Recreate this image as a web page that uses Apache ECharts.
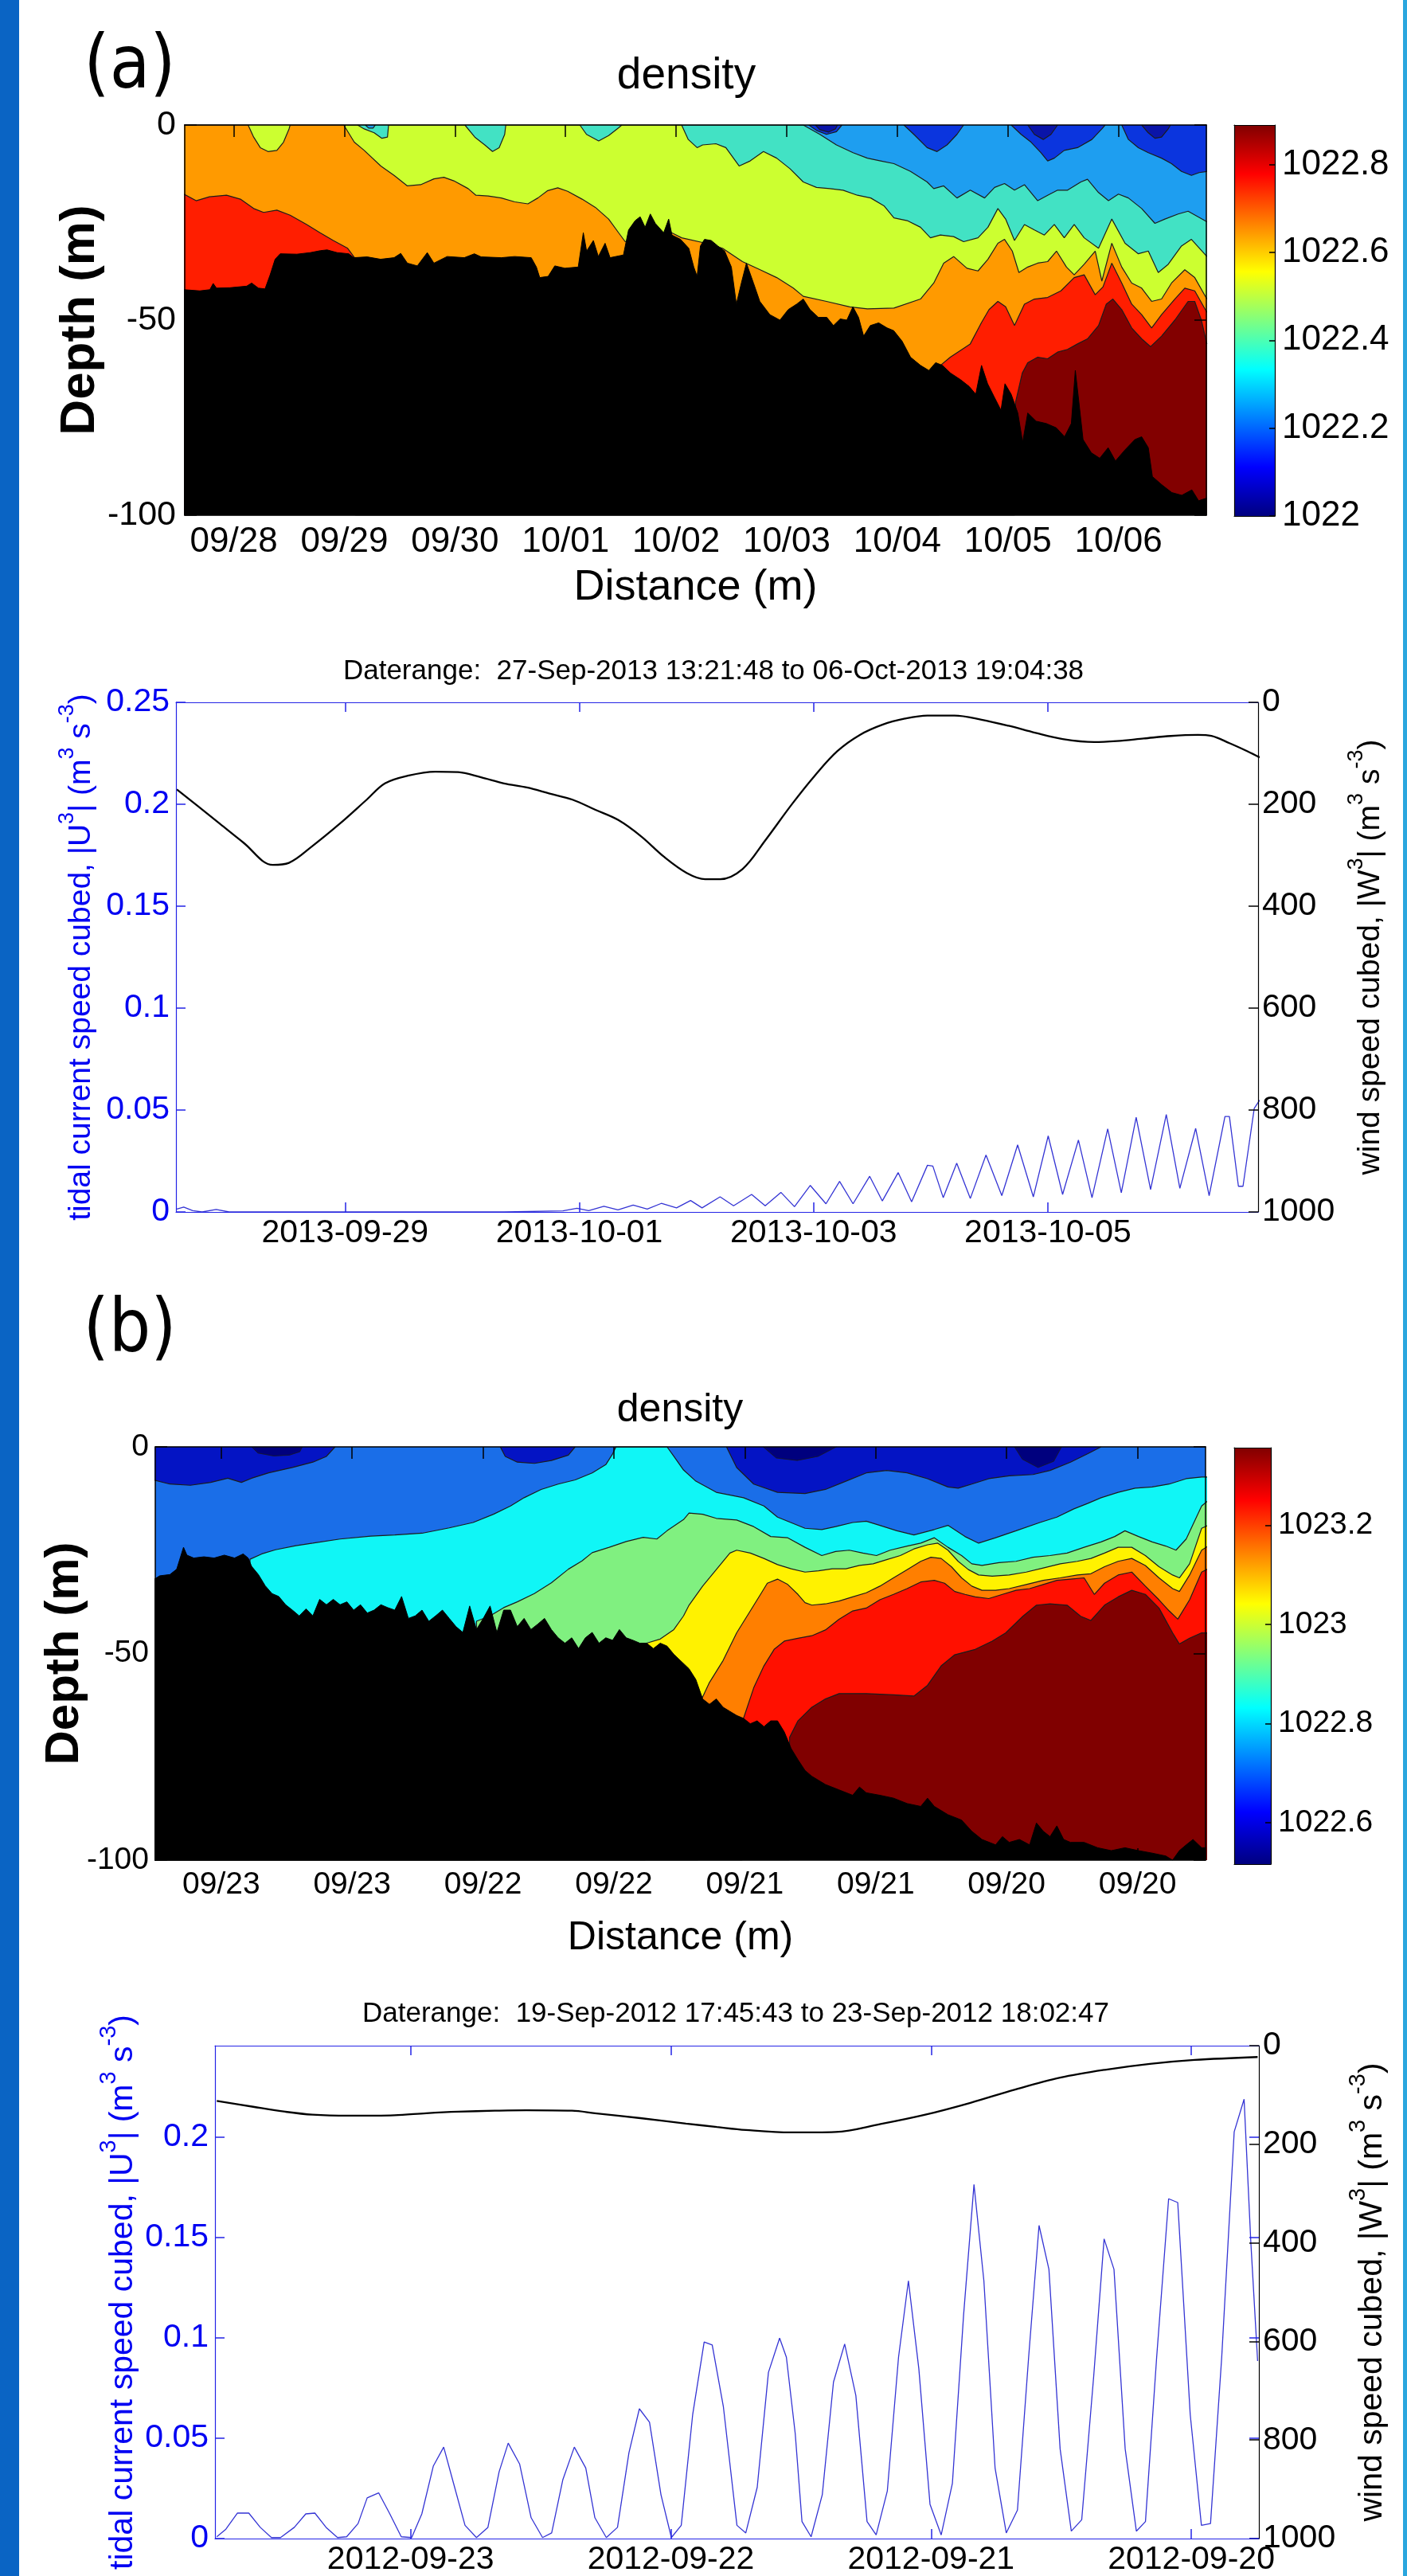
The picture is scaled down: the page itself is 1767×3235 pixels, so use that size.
<!DOCTYPE html>
<html><head><meta charset="utf-8">
<script src="https://cdn.jsdelivr.net/npm/echarts@6/dist/echarts.min.js"></script>
<style>html,body{margin:0;padding:0;background:#fff}#c{width:1767px;height:3235px}</style>
</head><body><div id="c"></div>
<script>
// ================= DATA =================
// Panel (a): x = days since 2013-09-27 00:00 ; depth in m
const aRange = [0.5568, 9.7949];
const aDensTicks = [1,2,3,4,5,6,7,8,9];
const aDensLabels = ['09/28','09/29','09/30','10/01','10/02','10/03','10/04','10/05','10/06'];
const depthTicks = [0,-50,-100];
const aCbarRange = [1022, 1022.89];
const aCbarTicks = [1022,1022.2,1022.4,1022.6,1022.8];

const aTurqTop = [[0.55,0],[6.15,0],[6.30,-2.4],[6.45,-5.1],[6.60,-7.1],[6.73,-8.5],[6.85,-9.2],[6.97,-9.9],[7.12,-11.9],[7.27,-14.6],[7.33,-16.3],[7.42,-15.6],[7.54,-18.7],[7.66,-16.7],[7.79,-18.7],[7.88,-16.0],[7.97,-15.0],[8.06,-16.7],[8.15,-15.3],[8.27,-19.4],[8.36,-18.0],[8.45,-16.7],[8.54,-16.7],[8.66,-14.6],[8.72,-13.9],[8.82,-17.3],[8.91,-19.4],[9.00,-17.7],[9.09,-18.7],[9.21,-21.4],[9.33,-25.2],[9.42,-24.1],[9.54,-22.8],[9.63,-22.1],[9.80,-24.8]];
const aLimeTop = [[0.55,0],[5.05,0],[5.11,-3.7],[5.19,-5.8],[5.24,-5.1],[5.36,-4.8],[5.45,-5.8],[5.57,-10.5],[5.67,-9.2],[5.79,-6.8],[5.91,-8.5],[6.03,-11.2],[6.15,-14.6],[6.27,-16.0],[6.39,-16.3],[6.51,-16.7],[6.64,-18.0],[6.76,-18.7],[6.88,-20.7],[6.97,-23.8],[7.09,-24.5],[7.21,-26.2],[7.30,-28.9],[7.39,-28.2],[7.51,-28.6],[7.60,-29.9],[7.73,-28.9],[7.82,-26.2],[7.91,-21.4],[7.98,-24.1],[8.06,-29.6],[8.15,-25.5],[8.24,-26.9],[8.33,-28.2],[8.42,-25.5],[8.51,-28.9],[8.60,-25.5],[8.69,-28.9],[8.82,-31.6],[8.94,-24.1],[9.06,-30.3],[9.18,-33.0],[9.27,-32.3],[9.36,-37.8],[9.45,-35.7],[9.57,-31.0],[9.66,-29.3],[9.80,-33.7]];
const aOrangeTop = [[0.55,0],[1.995,0],[2.09,-4.4],[2.18,-6.5],[2.33,-10.5],[2.45,-12.9],[2.57,-15.6],[2.69,-15.3],[2.81,-13.8],[2.90,-13.4],[2.99,-14.3],[3.12,-16.3],[3.19,-18.0],[3.30,-18.2],[3.42,-18.7],[3.54,-19.7],[3.66,-20.2],[3.75,-18.7],[3.84,-16.8],[3.93,-16.1],[4.02,-17.0],[4.15,-19.0],[4.27,-21.1],[4.39,-24.1],[4.48,-27.6],[4.54,-29.9],[4.70,-29.0],[4.96,-27.6],[5.05,-28.9],[5.27,-30.3],[5.42,-31.6],[5.60,-35.0],[5.76,-37.1],[5.91,-39.1],[6.06,-41.8],[6.15,-43.9],[6.36,-45.2],[6.57,-46.6],[6.73,-47.1],[6.97,-46.9],[7.21,-44.6],[7.33,-40.5],[7.42,-35.4],[7.51,-33.7],[7.63,-36.7],[7.73,-37.4],[7.82,-34.4],[7.91,-30.3],[7.97,-29.3],[8.04,-32.3],[8.10,-37.8],[8.18,-36.4],[8.27,-35.4],[8.36,-35.0],[8.44,-32.3],[8.53,-36.4],[8.60,-38.4],[8.69,-35.7],[8.79,-32.3],[8.85,-40.0],[8.94,-30.3],[9.03,-36.4],[9.12,-40.5],[9.21,-41.8],[9.30,-45.2],[9.39,-44.6],[9.48,-40.5],[9.60,-37.1],[9.69,-39.1],[9.80,-44.6]];
const aRedTop = [[0.55,-17.7],[0.66,-19.4],[0.78,-18.4],[0.935,-18.0],[1.06,-19.0],[1.18,-21.4],[1.27,-22.4],[1.39,-21.8],[1.51,-23.1],[1.66,-25.5],[1.78,-27.6],[1.90,-29.6],[2.03,-31.6],[2.09,-33.9],[2.10,-100],[7.38,-100],[7.39,-61.6],[7.48,-59.5],[7.57,-57.8],[7.66,-56.1],[7.76,-50.7],[7.83,-47.3],[7.91,-45.2],[7.98,-46.6],[8.06,-51.4],[8.15,-45.9],[8.24,-44.6],[8.36,-44.2],[8.48,-42.5],[8.60,-39.1],[8.69,-38.4],[8.79,-43.5],[8.86,-41.5],[8.94,-35.4],[9.03,-40.5],[9.12,-45.9],[9.21,-48.6],[9.30,-52.0],[9.39,-48.6],[9.51,-44.6],[9.60,-41.8],[9.69,-42.5],[9.80,-48.0]];
const aDarkRedTop = [[0.55,-100],[8.06,-100],[8.07,-71.0],[8.13,-63.6],[8.18,-60.9],[8.27,-59.5],[8.36,-59.9],[8.45,-58.2],[8.54,-57.5],[8.63,-56.1],[8.72,-54.8],[8.82,-51.4],[8.89,-45.9],[8.95,-44.6],[9.03,-47.3],[9.12,-52.0],[9.21,-54.8],[9.29,-56.8],[9.39,-54.1],[9.51,-50.0],[9.63,-45.2],[9.69,-45.2],[9.75,-50.0],[9.80,-56.1]];
const aLimeBlob = [[1.13,0],[1.18,-3.1],[1.24,-5.8],[1.31,-6.8],[1.39,-6.5],[1.45,-4.4],[1.50,-1.0],[1.51,0]];
const aTurqBlob1 = [[2.12,0],[2.18,-1.0],[2.27,-2.0],[2.34,-3.4],[2.39,-3.1],[2.40,0]];
const aTurqBlob2 = [[3.09,0],[3.18,-3.1],[3.27,-5.1],[3.34,-6.8],[3.40,-5.8],[3.45,-2.4],[3.46,0]];
const aTurqBlob3 = [[4.13,0],[4.19,-2.4],[4.30,-4.1],[4.39,-2.7],[4.48,-0.7],[4.51,0]];
const aSkyBlob1 = [[2.19,0],[2.22,-0.8],[2.26,-0.8],[2.28,0]];
const aBlueBlob1 = [[6.20,0],[6.27,-1.4],[6.36,-2.4],[6.45,-1.7],[6.50,0]];
const aBlueBlob2 = [[7.06,0],[7.15,-2.4],[7.27,-5.8],[7.36,-6.8],[7.45,-5.1],[7.54,-2.4],[7.60,0]];
const aBlueBlob3 = [[8.03,0],[8.12,-2.4],[8.21,-4.4],[8.30,-7.1],[8.36,-9.2],[8.42,-8.5],[8.51,-6.5],[8.63,-5.8],[8.76,-3.7],[8.85,-1.0],[8.88,0]];
const aBlueBlob4 = [[9.03,0],[9.09,-3.7],[9.18,-5.8],[9.27,-7.1],[9.39,-8.5],[9.48,-9.9],[9.57,-11.9],[9.66,-12.9],[9.73,-12.2],[9.80,-11.9]];
const aNavyBlob1 = [[6.26,0],[6.30,-1.2],[6.38,-1.8],[6.44,-1.0],[6.46,0]];
const aNavyBlob3 = [[8.18,0],[8.24,-2.4],[8.32,-3.7],[8.39,-2.4],[8.45,0]];
const aNavyBlob4 = [[9.21,0],[9.27,-2.0],[9.33,-3.4],[9.39,-3.1],[9.45,-1.0],[9.47,0]];
const aBathy = [[0.55,-42.2],[0.693,-42.5],[0.784,-42.2],[0.814,-40.6],[0.844,-41.8],[0.965,-41.7],[1.117,-41.3],[1.162,-40.5],[1.223,-41.8],[1.283,-42.0],[1.329,-38.4],[1.374,-34.4],[1.42,-33.0],[1.571,-33.1],[1.692,-32.7],[1.783,-32.2],[1.844,-32.0],[1.935,-32.7],[2.04,-33.0],[2.086,-34.0],[2.207,-33.8],[2.328,-34.4],[2.45,-34.0],[2.51,-32.9],[2.57,-35.4],[2.66,-36.1],[2.75,-32.7],[2.81,-35.4],[2.93,-33.7],[3.085,-34.0],[3.176,-33.0],[3.237,-33.8],[3.42,-34.0],[3.54,-33.7],[3.69,-34.0],[3.737,-36.4],[3.767,-39.1],[3.843,-38.8],[3.903,-36.1],[3.994,-36.7],[4.115,-36.4],[4.161,-27.6],[4.191,-32.3],[4.252,-29.6],[4.297,-33.7],[4.358,-30.3],[4.403,-34.0],[4.524,-33.3],[4.57,-26.9],[4.63,-24.5],[4.675,-23.5],[4.72,-26.2],[4.767,-22.8],[4.812,-25.2],[4.888,-27.6],[4.933,-24.1],[4.963,-28.2],[5.04,-29.3],[5.115,-31.6],[5.16,-36.4],[5.19,-38.8],[5.22,-31.0],[5.257,-29.3],[5.318,-29.6],[5.378,-31.0],[5.439,-32.3],[5.50,-36.4],[5.545,-45.9],[5.59,-40.5],[5.636,-35.4],[5.70,-40.5],[5.757,-45.2],[5.848,-48.6],[5.939,-50.0],[6.014,-47.3],[6.09,-45.9],[6.15,-44.6],[6.211,-47.3],[6.287,-49.3],[6.363,-49.3],[6.423,-51.4],[6.484,-49.7],[6.544,-50.0],[6.599,-46.6],[6.65,-49.3],[6.696,-54.1],[6.756,-51.4],[6.832,-50.7],[6.908,-52.0],[6.968,-52.7],[7.044,-55.4],[7.12,-59.5],[7.21,-61.6],[7.286,-62.9],[7.347,-60.9],[7.408,-61.6],[7.483,-63.6],[7.574,-65.3],[7.65,-67.0],[7.71,-69.0],[7.762,-61.6],[7.817,-66.3],[7.877,-69.7],[7.938,-73.1],[7.974,-66.3],[8.03,-69.0],[8.09,-73.8],[8.134,-81.3],[8.18,-73.8],[8.256,-75.9],[8.347,-76.5],[8.438,-77.6],[8.513,-79.9],[8.574,-76.5],[8.61,-62.9],[8.64,-70.4],[8.68,-80.6],[8.755,-84.0],[8.831,-85.4],[8.907,-82.7],[8.973,-86.1],[9.058,-83.3],[9.149,-80.6],[9.21,-79.9],[9.27,-82.7],[9.307,-90.1],[9.392,-92.2],[9.483,-94.2],[9.573,-94.9],[9.664,-93.5],[9.725,-96.3],[9.80,-95.6]];

// Panel (a) time series
const aTsTicks = [2,4,6,8];
const aTsLabels = ['2013-09-29','2013-10-01','2013-10-03','2013-10-05'];
const tidalTicksA = [0,0.05,0.1,0.15,0.2,0.25];
const windTicks = [0,200,400,600,800,1000];
const aWind = [[0.564,171],[0.740,203],[0.935,239],[1.131,275],[1.384,319],[1.521,315],[1.716,283],[1.951,239],[2.185,191],[2.341,159],[2.536,144],[2.771,136],[2.966,137],[3.161,147],[3.357,159],[3.552,167],[3.747,179],[3.942,191],[4.138,211],[4.333,231],[4.528,263],[4.723,303],[4.919,335],[5.075,347],[5.202,347],[5.394,327],[5.587,271],[5.818,199],[6.01,144],[6.202,96],[6.395,64],[6.587,44],[6.78,32],[6.972,26],[7.203,26],[7.434,34],[7.665,46],[7.896,60],[8.126,72],[8.396,78],[8.588,76],[8.819,71],[9.05,66],[9.281,64],[9.396,66],[9.55,80],[9.704,96],[9.808,108]];
const aTidal = [[0.564,0.0014],[0.623,0.0024],[0.70,0.0006],[0.78,0],[0.90,0.0012],[1.01,0],[1.5,0],[2.0,0],[2.5,0],[3.0,0],[3.36,0],[3.86,0.0005],[3.98,0.0018],[4.08,0.0006],[4.21,0.0028],[4.33,0.0010],[4.46,0.0034],[4.58,0.0014],[4.70,0.0042],[4.83,0.0020],[4.95,0.0056],[5.048,0.0020],[5.202,0.0074],[5.317,0.0030],[5.471,0.0086],[5.587,0.0030],[5.721,0.0096],[5.837,0.0026],[5.972,0.0130],[6.106,0.0040],[6.222,0.0150],[6.337,0.0040],[6.479,0.0175],[6.587,0.0054],[6.722,0.0193],[6.837,0.0050],[6.972,0.0229],[7.018,0.0225],[7.107,0.0070],[7.222,0.0239],[7.338,0.0066],[7.472,0.0279],[7.607,0.0080],[7.742,0.0329],[7.876,0.0074],[8.003,0.0373],[8.126,0.0086],[8.261,0.0353],[8.377,0.0070],[8.511,0.0408],[8.627,0.0094],[8.754,0.0464],[8.877,0.0110],[9.011,0.0478],[9.127,0.0116],[9.262,0.0410],[9.377,0.0080],[9.512,0.0468],[9.550,0.0468],[9.627,0.0126],[9.666,0.0126],[9.762,0.0508],[9.808,0.0548]];

// Panel (b): x = days since 2012-09-19 00:00 (axis reversed)
const bRange = [0.7401, 4.7519];
const bDensTicks = [4.5,4,3.5,3,2.5,2,1.5,1];
const bDensLabels = ['09/23','09/23','09/22','09/22','09/21','09/21','09/20','09/20'];
const bCbarRange = [1022.516, 1023.357];
const bCbarTicks = [1022.6,1022.8,1023,1023.2];

const bCyanTop = [[4.76,-100],[4.392,-100],[4.390,-27.2],[4.345,-25.9],[4.293,-24.9],[4.215,-23.9],[4.150,-23.3],[4.046,-22.3],[3.929,-21.6],[3.837,-21.3],[3.733,-20.9],[3.629,-19.6],[3.538,-18.3],[3.460,-16.3],[3.395,-14.3],[3.343,-12.3],[3.278,-10.3],[3.213,-9.0],[3.148,-8.0],[3.083,-6.3],[3.031,-4.3],[3.005,-1.7],[2.992,0],[2.797,0],[2.771,-2.3],[2.734,-5.6],[2.687,-8.3],[2.609,-11.0],[2.505,-12.3],[2.427,-14.3],[2.375,-17.0],[2.270,-19.7],[2.206,-20.0],[2.153,-19.3],[2.088,-18.3],[2.036,-18.0],[1.984,-19.0],[1.919,-20.3],[1.854,-21.3],[1.776,-20.0],[1.724,-19.0],[1.659,-21.7],[1.607,-23.3],[1.542,-22.0],[1.464,-20.3],[1.373,-18.3],[1.308,-17.0],[1.243,-15.0],[1.191,-13.7],[1.139,-12.3],[1.074,-11.0],[1.009,-10.0],[0.944,-9.7],[0.879,-9.0],[0.814,-7.7],[0.755,-7.3],[0.73,-7.3]];
const bGreenTop = [[4.76,-100],[3.53,-100],[3.525,-42.2],[3.473,-40.9],[3.421,-38.9],[3.369,-37.5],[3.304,-35.5],[3.239,-32.9],[3.174,-29.6],[3.122,-27.6],[3.083,-25.6],[3.018,-24.3],[2.953,-22.9],[2.888,-21.9],[2.836,-22.3],[2.797,-20.3],[2.734,-17.6],[2.713,-16.0],[2.661,-16.3],[2.609,-17.3],[2.531,-17.7],[2.466,-19.3],[2.401,-21.7],[2.336,-22.0],[2.270,-24.3],[2.206,-26.3],[2.153,-25.3],[2.101,-25.0],[2.049,-25.7],[1.997,-26.3],[1.945,-25.0],[1.880,-24.0],[1.828,-23.3],[1.776,-22.0],[1.724,-24.3],[1.672,-26.3],[1.633,-28.3],[1.594,-28.7],[1.529,-28.0],[1.464,-27.7],[1.399,-26.7],[1.334,-26.3],[1.269,-25.7],[1.204,-24.3],[1.139,-23.0],[1.087,-21.7],[1.048,-20.3],[0.996,-21.7],[0.944,-23.0],[0.892,-24.0],[0.853,-25.0],[0.814,-22.3],[0.755,-14.3],[0.73,-13.0]];
const bYellowTop = [[4.76,-100],[2.88,-100],[2.875,-47.5],[2.823,-46.5],[2.771,-44.2],[2.734,-40.9],[2.713,-38.3],[2.661,-33.7],[2.609,-29.7],[2.557,-25.7],[2.531,-25.0],[2.479,-25.7],[2.427,-27.0],[2.375,-28.5],[2.323,-29.5],[2.270,-30.3],[2.218,-30.0],[2.166,-29.5],[2.114,-29.5],[2.062,-28.7],[2.010,-28.3],[1.958,-27.3],[1.906,-26.3],[1.854,-24.7],[1.802,-23.7],[1.763,-23.3],[1.724,-25.0],[1.685,-27.7],[1.646,-29.7],[1.607,-31.0],[1.555,-31.3],[1.490,-31.0],[1.425,-30.3],[1.360,-29.3],[1.295,-28.3],[1.230,-27.7],[1.178,-27.0],[1.126,-25.7],[1.074,-24.3],[1.022,-24.3],[0.970,-26.3],[0.918,-29.0],[0.866,-31.0],[0.840,-31.7],[0.801,-28.3],[0.755,-19.7],[0.73,-19.0]];
const bOrangeTop = [[4.76,-100],[2.68,-100],[2.674,-62.3],[2.635,-57.0],[2.583,-51.7],[2.531,-45.0],[2.479,-39.7],[2.440,-35.7],[2.414,-33.0],[2.375,-32.0],[2.336,-33.3],[2.297,-35.7],[2.270,-37.7],[2.244,-38.3],[2.192,-38.0],[2.140,-37.3],[2.088,-36.3],[2.036,-35.3],[1.984,-33.7],[1.932,-31.7],[1.880,-29.7],[1.828,-27.7],[1.789,-26.7],[1.750,-27.0],[1.711,-29.0],[1.672,-31.7],[1.633,-33.7],[1.594,-34.7],[1.542,-34.7],[1.490,-34.3],[1.425,-33.3],[1.360,-32.3],[1.295,-31.7],[1.230,-31.0],[1.178,-30.7],[1.126,-29.0],[1.074,-27.7],[1.022,-27.0],[0.970,-28.7],[0.918,-31.7],[0.866,-34.3],[0.840,-35.0],[0.801,-31.0],[0.755,-25.0],[0.73,-24.0]];
const bRedTop = [[4.76,-100],[2.51,-100],[2.505,-65.7],[2.466,-58.3],[2.427,-53.0],[2.388,-49.0],[2.349,-47.0],[2.297,-46.3],[2.244,-45.7],[2.192,-44.3],[2.140,-41.7],[2.088,-39.7],[2.036,-39.0],[1.984,-37.0],[1.932,-35.7],[1.880,-34.3],[1.828,-32.7],[1.776,-32.3],[1.737,-33.0],[1.698,-35.0],[1.659,-35.7],[1.620,-36.3],[1.568,-36.7],[1.516,-35.7],[1.464,-34.7],[1.412,-34.3],[1.360,-33.3],[1.308,-32.3],[1.256,-32.0],[1.204,-31.7],[1.165,-35.7],[1.126,-33.0],[1.074,-31.0],[1.022,-30.3],[0.970,-33.7],[0.918,-37.0],[0.879,-39.7],[0.846,-41.7],[0.801,-37.0],[0.755,-30.3],[0.73,-29.5]];
const bDarkRedTop = [[4.76,-100],[2.33,-100],[2.329,-70.3],[2.297,-66.3],[2.244,-63.0],[2.192,-61.0],[2.140,-59.7],[2.036,-59.7],[1.932,-60.0],[1.854,-60.3],[1.802,-57.7],[1.750,-53.0],[1.698,-50.3],[1.620,-49.0],[1.555,-47.0],[1.503,-45.0],[1.438,-41.0],[1.386,-38.3],[1.334,-38.0],[1.269,-38.3],[1.217,-41.0],[1.178,-42.0],[1.126,-38.3],[1.074,-36.3],[1.022,-34.7],[0.970,-35.7],[0.918,-39.0],[0.866,-45.0],[0.840,-47.7],[0.801,-46.3],[0.755,-45.0],[0.73,-45.0]];
const bNavyBlob1 = [[4.76,0],[4.76,-8.0],[4.696,-9.0],[4.618,-9.3],[4.540,-8.6],[4.475,-7.6],[4.423,-8.6],[4.384,-7.6],[4.319,-6.3],[4.228,-5.0],[4.150,-3.7],[4.098,-2.3],[4.065,0]];
const bNavyBlob2 = [[3.434,0],[3.415,-2.3],[3.369,-3.7],[3.304,-4.0],[3.239,-3.3],[3.174,-2.0],[3.148,0]];
const bNavyBlob3 = [[2.570,0],[2.531,-5.0],[2.466,-9.0],[2.375,-11.0],[2.270,-11.3],[2.192,-10.3],[2.114,-8.3],[2.036,-6.3],[1.958,-5.7],[1.880,-6.3],[1.802,-7.7],[1.724,-9.7],[1.685,-10.0],[1.633,-9.0],[1.568,-7.7],[1.490,-7.0],[1.399,-6.7],[1.334,-5.7],[1.256,-3.7],[1.191,-1.7],[1.139,0]];
const bDeepBlob1 = [[4.384,0],[4.36,-1.5],[4.30,-2.2],[4.24,-2.0],[4.20,-1.2],[4.19,0]];
const bDeepBlob2 = [[2.43,0],[2.38,-2.7],[2.30,-3.3],[2.22,-2.3],[2.15,0]];
const bDeepBlob3 = [[1.47,0],[1.44,-3.0],[1.38,-5.0],[1.32,-3.5],[1.29,0]];
const bBathy = [[4.76,-32.2],[4.735,-31.2],[4.696,-30.9],[4.670,-29.6],[4.644,-24.3],[4.631,-26.2],[4.605,-26.9],[4.566,-26.6],[4.527,-26.9],[4.488,-26.2],[4.449,-26.9],[4.416,-25.9],[4.397,-26.9],[4.384,-28.9],[4.358,-30.9],[4.332,-33.6],[4.306,-35.5],[4.280,-36.2],[4.254,-38.2],[4.228,-39.5],[4.202,-40.9],[4.176,-39.2],[4.150,-40.9],[4.124,-36.9],[4.098,-38.2],[4.072,-36.9],[4.046,-38.2],[4.020,-37.5],[3.994,-39.5],[3.968,-38.2],[3.942,-40.2],[3.916,-39.5],[3.890,-38.2],[3.864,-38.9],[3.837,-39.5],[3.811,-36.2],[3.785,-41.5],[3.759,-40.9],[3.733,-39.5],[3.707,-42.2],[3.681,-40.9],[3.655,-39.5],[3.629,-41.5],[3.603,-43.5],[3.577,-44.9],[3.551,-38.5],[3.525,-44.2],[3.499,-41.5],[3.473,-38.5],[3.447,-44.9],[3.421,-39.5],[3.395,-39.5],[3.369,-43.5],[3.343,-41.5],[3.317,-44.2],[3.291,-42.9],[3.265,-41.5],[3.239,-44.2],[3.213,-46.2],[3.187,-47.5],[3.161,-46.2],[3.135,-48.8],[3.109,-46.2],[3.083,-44.9],[3.057,-47.5],[3.031,-46.2],[3.005,-46.8],[2.979,-44.2],[2.953,-46.2],[2.927,-46.8],[2.901,-47.5],[2.875,-47.5],[2.849,-48.8],[2.823,-47.5],[2.797,-48.2],[2.771,-50.2],[2.713,-53.7],[2.687,-56.3],[2.661,-61.0],[2.635,-62.3],[2.609,-61.0],[2.583,-63.0],[2.557,-64.0],[2.531,-65.0],[2.505,-65.7],[2.479,-67.0],[2.453,-66.3],[2.427,-67.7],[2.401,-66.3],[2.375,-66.3],[2.349,-69.0],[2.323,-73.0],[2.297,-75.7],[2.270,-78.3],[2.244,-79.7],[2.192,-81.7],[2.140,-83.0],[2.088,-84.3],[2.062,-82.3],[2.036,-83.7],[1.984,-84.3],[1.932,-85.0],[1.880,-86.3],[1.828,-87.0],[1.802,-85.0],[1.776,-87.0],[1.724,-89.0],[1.672,-90.3],[1.633,-93.0],[1.594,-95.0],[1.542,-96.3],[1.516,-94.3],[1.490,-95.7],[1.451,-95.0],[1.412,-96.3],[1.386,-91.0],[1.360,-93.0],[1.334,-94.3],[1.308,-91.7],[1.282,-95.0],[1.256,-95.7],[1.204,-95.7],[1.152,-97.0],[1.100,-97.7],[1.048,-97.0],[0.996,-97.7],[0.944,-98.3],[0.892,-99.0],[0.866,-100],[0.840,-97.7],[0.814,-96.3],[0.788,-95.0],[0.755,-97.0],[0.73,-97.0]];

// Panel (b) time series
const bTsTicks = [4,3,2,1];
const bTsLabels = ['2012-09-23','2012-09-22','2012-09-21','2012-09-20'];
const tidalTicksB = [0,0.05,0.1,0.15,0.2];
const tidalMaxB = 0.2457;
const bWind = [[4.745,112],[4.605,124],[4.482,134],[4.377,140],[4.237,142],[4.062,141],[3.94,137],[3.817,134],[3.677,132],[3.555,131],[3.38,132],[3.292,137],[3.117,147],[2.942,158],[2.823,165],[2.712,171],[2.539,176],[2.367,175],[2.194,159],[2.022,140],[1.849,116],[1.677,89],[1.504,65],[1.332,49],[1.159,37],[0.987,29],[0.745,23]];
const bTidal = [[4.745,0.0009],[4.710,0.0047],[4.666,0.0127],[4.622,0.0127],[4.578,0.0056],[4.535,0.0005],[4.500,0.0005],[4.447,0.0056],[4.403,0.0123],[4.368,0.0127],[4.325,0.0056],[4.281,0.0005],[4.246,0.0009],[4.202,0.0075],[4.167,0.0203],[4.123,0.0228],[4.080,0.0123],[4.036,0.0009],[3.996,0.0005],[3.957,0.0123],[3.913,0.0361],[3.873,0.0456],[3.835,0.0275],[3.791,0.0066],[3.747,0.0005],[3.703,0.0056],[3.660,0.0333],[3.625,0.0476],[3.581,0.0371],[3.537,0.0104],[3.493,0.0005],[3.458,0.0028],[3.415,0.0294],[3.371,0.0456],[3.327,0.0352],[3.292,0.0104],[3.248,0.0005],[3.205,0.0056],[3.161,0.0428],[3.121,0.0647],[3.082,0.0580],[3.038,0.0219],[2.998,0.0005],[2.960,0.0066],[2.916,0.0619],[2.872,0.0980],[2.841,0.0965],[2.798,0.0656],[2.746,0.0066],[2.712,0.0028],[2.668,0.0256],[2.625,0.0828],[2.582,0.0999],[2.556,0.0904],[2.522,0.0523],[2.496,0.0085],[2.461,0.0009],[2.418,0.0219],[2.375,0.0780],[2.332,0.0970],[2.289,0.0713],[2.246,0.0085],[2.211,0.0018],[2.168,0.0238],[2.125,0.0904],[2.087,0.1285],[2.047,0.0847],[2.004,0.0171],[1.961,0.0018],[1.918,0.0275],[1.875,0.1114],[1.835,0.1765],[1.797,0.1285],[1.754,0.0352],[1.711,0.0028],[1.668,0.0142],[1.625,0.0904],[1.585,0.1561],[1.547,0.1342],[1.504,0.0447],[1.461,0.0037],[1.421,0.0094],[1.375,0.0809],[1.335,0.1494],[1.297,0.1342],[1.254,0.0447],[1.211,0.0037],[1.176,0.0085],[1.133,0.0904],[1.087,0.1694],[1.052,0.1675],[1.004,0.0618],[0.961,0.0066],[0.926,0.0075],[0.883,0.0904],[0.835,0.2028],[0.797,0.2190],[0.771,0.1475],[0.745,0.0885]];

// ================= STYLE / BUILD =================
const FF = '"Liberation Sans", Arial, Helvetica, sans-serif';
const NARROW = '"Liberation Sans Narrow", "DejaVu Sans Condensed", "Open Sans", sans-serif';
const TXT_BLUE = '#0000f2';
const AX_BLUE = '#2424e6';
const LINE_DARK = '#1c1c1c';

const colA = {navy:'#0a14a8', blue:'#0b35de', sky:'#1e9ef0', turq:'#42e2c4', lime:'#ccff30', orange:'#ff9a00', red:'#ff1e00', dred:'#820000'};
const colB = {deep:'#00007e', navy:'#0414c4', blue:'#1a6ee8', cyan:'#10f6f6', green:'#80f080', yellow:'#fff200', orange:'#ff7f00', red:'#ff1000', dred:'#800000'};

function lab(ticks, labels) {
  return function (v) {
    for (let i = 0; i < ticks.length; i++) if (Math.abs(ticks[i] - v) < 1e-6) return labels[i];
    return '';
  };
}
function num(v) { return String(Math.round(v * 1000) / 1000); }

function supRich(fs, color) {
  return {
    n: { fontSize: fs, fontFamily: FF, color: color, lineHeight: Math.round(fs * 1.3), verticalAlign: 'bottom' },
    s: { fontSize: Math.round(fs * 0.7), fontFamily: FF, color: color, lineHeight: Math.round(fs * 0.7), verticalAlign: 'top' }
  };
}

function axisDef(o) {
  const a = {
    gridIndex: o.grid, type: 'value', position: o.pos, min: o.min, max: o.max,
    inverse: !!o.inverse, z: 100,
    axisLine: { show: o.line !== false, onZero: false, lineStyle: { color: o.lineColor || '#000', width: o.lineWidth || 1.5 } },
    splitLine: { show: false },
    axisLabel: { show: false },
    axisTick: { show: false }
  };
  if (o.ticks) {
    a.axisTick = { show: true, inside: true, length: o.tickLen || 12, customValues: o.ticks,
      lineStyle: { color: o.tickColor || o.lineColor || '#000', width: 1.5 } };
  }
  if (o.labels) {
    a.axisLabel = { show: true, customValues: o.ticks, formatter: o.labels,
      fontSize: o.fs, fontFamily: FF, color: o.labelColor || '#000', margin: o.margin };
  }
  if (o.name) {
    a.name = o.name; a.nameLocation = 'middle'; a.nameGap = o.nameGap; a.nameMoveOverlap = false;
    a.nameTextStyle = { fontSize: o.nameFs, fontFamily: FF, color: o.nameColor || '#000', fontWeight: o.nameWeight || 'normal' };
    if (o.rich) a.nameTextStyle.rich = supRich(o.nameFs, o.nameColor || '#000');
  }
  return a;
}

function area(data, color, xi, yi, origin, lineW) {
  return { type: 'line', xAxisIndex: xi, yAxisIndex: yi, data: data, symbol: 'none', silent: true,
    lineStyle: { color: LINE_DARK, width: lineW == null ? 1.2 : lineW },
    areaStyle: { color: color, opacity: 1, origin: origin || 'start' } };
}
function jet() {
  return new echarts.graphic.LinearGradient(0, 0, 0, 1, [
    { offset: 0, color: '#800000' }, { offset: 0.125, color: '#ff0000' }, { offset: 0.375, color: '#ffff00' },
    { offset: 0.625, color: '#00ffff' }, { offset: 0.875, color: '#0000ff' }, { offset: 1, color: '#000080' }]);
}

const TIDAL_NAME = '{n|tidal current speed cubed, |U}{s|3}{n|| (m}{s|3}{n| s}{s|-3}{n|)}';
const WIND_NAME = '{n|wind speed cubed, |W}{s|3}{n|| (m}{s|3}{n| s}{s|-3}{n|)}';

const xAxes = [
  axisDef({grid:0, pos:'bottom', min:aRange[0], max:aRange[1], ticks:aDensTicks, tickLen:15, labels:lab(aDensTicks,aDensLabels), fs:44, margin:12, name:'Distance (m)', nameGap:64, nameFs:54}),
  axisDef({grid:0, pos:'top', min:aRange[0], max:aRange[1], ticks:aDensTicks, tickLen:15}),
  axisDef({grid:1, pos:'bottom', min:0, max:1, lineWidth:1.2}),
  axisDef({grid:1, pos:'top', min:0, max:1, lineWidth:1.2}),
  axisDef({grid:2, pos:'bottom', min:aRange[0], max:aRange[1], ticks:aTsTicks, lineColor:AX_BLUE, lineWidth:1.2, labels:lab(aTsTicks,aTsLabels), fs:41, margin:6}),
  axisDef({grid:2, pos:'top', min:aRange[0], max:aRange[1], ticks:aTsTicks, lineColor:AX_BLUE, lineWidth:1.2}),
  axisDef({grid:3, pos:'bottom', min:bRange[0], max:bRange[1], inverse:true, ticks:bDensTicks, tickLen:15, labels:lab(bDensTicks,bDensLabels), fs:39, margin:12, name:'Distance (m)', nameGap:73, nameFs:50}),
  axisDef({grid:3, pos:'top', min:bRange[0], max:bRange[1], inverse:true, ticks:bDensTicks, tickLen:15}),
  axisDef({grid:4, pos:'bottom', min:0, max:1, lineWidth:1.2}),
  axisDef({grid:4, pos:'top', min:0, max:1, lineWidth:1.2}),
  axisDef({grid:5, pos:'bottom', min:bRange[0], max:bRange[1], inverse:true, ticks:bTsTicks, lineColor:AX_BLUE, lineWidth:1.2, labels:lab(bTsTicks,bTsLabels), fs:41, margin:6}),
  axisDef({grid:5, pos:'top', min:bRange[0], max:bRange[1], inverse:true, ticks:bTsTicks, lineColor:AX_BLUE, lineWidth:1.2})
];

const yAxes = [
  axisDef({grid:0, pos:'left', min:-100, max:0, ticks:depthTicks, tickLen:15, labels:num, fs:43, margin:11, name:'Depth (m)', nameGap:100, nameFs:62, nameWeight:'bold'}),
  axisDef({grid:0, pos:'right', min:-100, max:0, ticks:depthTicks, tickLen:15}),
  axisDef({grid:1, pos:'right', min:aCbarRange[0], max:aCbarRange[1], ticks:aCbarTicks, tickLen:7, lineWidth:1.2, labels:num, fs:44, margin:9}),
  axisDef({grid:1, pos:'left', min:aCbarRange[0], max:aCbarRange[1], lineWidth:1.2}),
  axisDef({grid:2, pos:'left', min:0, max:0.25, ticks:tidalTicksA, lineColor:AX_BLUE, lineWidth:1.2, labels:num, labelColor:TXT_BLUE, fs:41, margin:8,
    name:TIDAL_NAME, rich:true, nameGap:99, nameFs:39, nameColor:TXT_BLUE}),
  axisDef({grid:2, pos:'right', min:0, max:1000, inverse:true, ticks:windTicks, lineColor:'#000', lineWidth:1.2, labels:num, fs:41, margin:5,
    name:WIND_NAME, rich:true, nameGap:110, nameFs:39}),
  axisDef({grid:3, pos:'left', min:-100, max:0, ticks:depthTicks, tickLen:15, labels:num, fs:39, margin:8, name:'Depth (m)', nameGap:84, nameFs:60, nameWeight:'bold'}),
  axisDef({grid:3, pos:'right', min:-100, max:0, ticks:depthTicks, tickLen:15}),
  axisDef({grid:4, pos:'right', min:bCbarRange[0], max:bCbarRange[1], ticks:bCbarTicks, tickLen:7, lineWidth:1.2, labels:num, fs:39, margin:9}),
  axisDef({grid:4, pos:'left', min:bCbarRange[0], max:bCbarRange[1], lineWidth:1.2}),
  axisDef({grid:5, pos:'left', min:0, max:tidalMaxB, ticks:tidalTicksB, lineColor:AX_BLUE, lineWidth:1.2, labels:num, labelColor:TXT_BLUE, fs:41, margin:8,
    name:TIDAL_NAME, rich:true, nameGap:95, nameFs:41, nameColor:TXT_BLUE}),
  axisDef({grid:5, pos:'right', min:0, max:1000, inverse:true, ticks:windTicks, lineColor:'#000', lineWidth:1.2, labels:num, fs:41, margin:5,
    name:WIND_NAME, rich:true, nameGap:110, nameFs:41}),
  axisDef({grid:5, pos:'right', min:0, max:tidalMaxB, ticks:tidalTicksB, line:false, tickColor:AX_BLUE})
];

const series = [
  area(aTurqTop, colA.turq, 0, 0),
  area(aLimeTop, colA.lime, 0, 0),
  area(aOrangeTop, colA.orange, 0, 0),
  area(aRedTop, colA.red, 0, 0),
  area(aDarkRedTop, colA.dred, 0, 0),
  area(aLimeBlob, colA.lime, 0, 0, 'end'),
  area(aTurqBlob1, colA.turq, 0, 0, 'end'),
  area(aSkyBlob1, colA.sky, 0, 0, 'end'),
  area(aTurqBlob2, colA.turq, 0, 0, 'end'),
  area(aTurqBlob3, colA.turq, 0, 0, 'end'),
  area(aBlueBlob1, colA.blue, 0, 0, 'end'),
  area(aBlueBlob2, colA.blue, 0, 0, 'end'),
  area(aBlueBlob3, colA.blue, 0, 0, 'end'),
  area(aBlueBlob4, colA.blue, 0, 0, 'end'),
  area(aNavyBlob1, colA.navy, 0, 0, 'end'),
  area(aNavyBlob3, colA.navy, 0, 0, 'end'),
  area(aNavyBlob4, colA.navy, 0, 0, 'end'),
  { type:'line', xAxisIndex:0, yAxisIndex:0, data:aBathy, symbol:'none', silent:true,
    lineStyle:{color:'#000', width:1}, areaStyle:{color:'#000', opacity:1, origin:'start'} },
  { type:'line', xAxisIndex:2, yAxisIndex:2, data:[[0,aCbarRange[1]],[1,aCbarRange[1]]], symbol:'none', silent:true,
    lineStyle:{width:0}, areaStyle:{color:jet(), opacity:1, origin:'start'} },
  { type:'line', xAxisIndex:4, yAxisIndex:5, data:aWind, symbol:'none', smooth:0.35, silent:true, lineStyle:{color:'#000', width:2.3} },
  { type:'line', xAxisIndex:4, yAxisIndex:4, data:aTidal, symbol:'none', silent:true, lineStyle:{color:'#3434d4', width:1.3} },
  area(bCyanTop, colB.cyan, 6, 6),
  area(bGreenTop, colB.green, 6, 6),
  area(bYellowTop, colB.yellow, 6, 6),
  area(bOrangeTop, colB.orange, 6, 6),
  area(bRedTop, colB.red, 6, 6),
  area(bDarkRedTop, colB.dred, 6, 6),
  area(bNavyBlob1, colB.navy, 6, 6, 'end'),
  area(bNavyBlob2, colB.navy, 6, 6, 'end'),
  area(bNavyBlob3, colB.navy, 6, 6, 'end'),
  area(bDeepBlob1, colB.deep, 6, 6, 'end', 0.8),
  area(bDeepBlob2, colB.deep, 6, 6, 'end', 0.8),
  area(bDeepBlob3, colB.deep, 6, 6, 'end', 0.8),
  { type:'line', xAxisIndex:6, yAxisIndex:6, data:bBathy, symbol:'none', silent:true,
    lineStyle:{color:'#000', width:1}, areaStyle:{color:'#000', opacity:1, origin:'start'} },
  { type:'line', xAxisIndex:8, yAxisIndex:8, data:[[0,bCbarRange[1]],[1,bCbarRange[1]]], symbol:'none', silent:true,
    lineStyle:{width:0}, areaStyle:{color:jet(), opacity:1, origin:'start'} },
  { type:'line', xAxisIndex:10, yAxisIndex:11, data:bWind, symbol:'none', smooth:0.35, silent:true, lineStyle:{color:'#000', width:2.3} },
  { type:'line', xAxisIndex:10, yAxisIndex:10, data:bTidal, symbol:'none', silent:true, lineStyle:{color:'#3434d4', width:1.3} }
];
// draw each series in its own layer so later fills cover earlier contour lines
series.forEach(function (s, i) { s.z = 2 + i; });

function txt(x, y, text, size, family, weight) {
  return { type:'text', x:x, y:y, z:200, silent:true,
    style:{ text:text, fontSize:size, fontFamily:family || FF, fontWeight:weight || 'normal', fill:'#000',
      align:'center', verticalAlign:'middle', textAlign:'center', textVerticalAlign:'middle' } };
}

const option = {
  animation: false,
  backgroundColor: '#ffffff',
  grid: [
    { left:232, top:157, width:1283, height:490, show:true, backgroundColor:colA.sky, borderWidth:0 },
    { left:1550, top:157, width:51, height:491 },
    { left:221, top:882, width:1359, height:640 },
    { left:195, top:1817, width:1319, height:519, show:true, backgroundColor:colB.blue, borderWidth:0 },
    { left:1550, top:1818, width:46, height:523 },
    { left:270, top:2569, width:1311, height:621 }
  ],
  xAxis: xAxes,
  yAxis: yAxes,
  series: series,
  graphic: [
    { type:'rect', shape:{x:0, y:0, width:24, height:3235}, style:{fill:'#0a64c4'}, silent:true },
    { type:'rect', shape:{x:1762, y:0, width:5, height:3235}, style:{fill:'#2aa6de'}, silent:true },
    txt(163, 86, '(a)', 92, NARROW),
    txt(163, 1673, '(b)', 92, NARROW),
    txt(862, 96, 'density', 55),
    txt(854, 1771, 'density', 50),
    txt(896, 843, 'Daterange:  27-Sep-2013 13:21:48 to 06-Oct-2013 19:04:38', 35),
    txt(924, 2529, 'Daterange:  19-Sep-2012 17:45:43 to 23-Sep-2012 18:02:47', 35)
  ]
};

const chart = echarts.init(document.getElementById('c'), null, { renderer: 'canvas' });
chart.setOption(option);
</script></body></html>
